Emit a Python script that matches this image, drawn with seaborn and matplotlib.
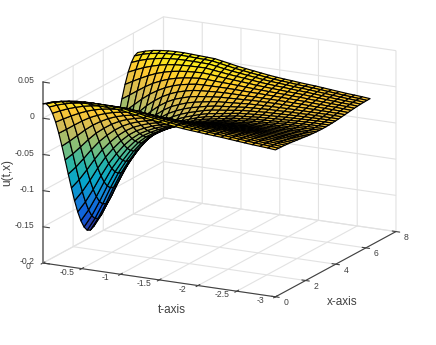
import numpy as np
import matplotlib
matplotlib.use("Agg")
import matplotlib.pyplot as plt
import seaborn as sns
from mpl_toolkits.mplot3d import proj3d

T_VALUES = [-0.1 * i for i in range(31)]
X_STEP = 0.20944
X_VALUES = [X_STEP * j for j in range(31)]
T_TICKS = [0, -0.5, -1, -1.5, -2, -2.5, -3]
T_LABELS = ["0", "-0.5", "-1", "-1.5", "-2", "-2.5", "-3"]
X_TICKS = [0, 2, 4, 6, 8]
X_LABELS = ["0", "2", "4", "6", "8"]
Z_TICKS = [-0.2, -0.15, -0.1, -0.05, 0, 0.05]
Z_LABELS = ["-0.2", "-0.15", "-0.1", "-0.05", "0", "0.05"]
PARULA = ["#352a87", "#0f5cdd", "#1481d6", "#06a4ca", "#2eb7a4", "#87bf77", "#d1bb59", "#fec832", "#f9fb0e"]

U = [
[.0200,.0177,.0109,-.0001,-.0147,-.0325,-.0526,-.0740,-.0960,-.1174,-.1375,-.1553,-.1699,-.1809,-.1877,-.1900,-.1877,-.1809,-.1699,-.1553,-.1375,-.1174,-.0960,-.0740,-.0526,-.0325,-.0147,-.0001,.0109,.0177,.0200],
[.0235,.0214,.0151,.0048,-.0088,-.0254,-.0440,-.0640,-.0845,-.1045,-.1231,-.1397,-.1533,-.1636,-.1699,-.1720,-.1699,-.1636,-.1533,-.1397,-.1231,-.1045,-.0845,-.0640,-.0440,-.0254,-.0088,.0048,.0151,.0214,.0235],
[.0260,.0241,.0184,.0092,-.0031,-.0180,-.0348,-.0528,-.0712,-.0892,-.1060,-.1209,-.1332,-.1424,-.1481,-.1500,-.1481,-.1424,-.1332,-.1209,-.1060,-.0892,-.0712,-.0528,-.0348,-.0180,-.0031,.0092,.0184,.0241,.0260],
[.0275,.0258,.0209,.0128,.0021,-.0109,-.0255,-.0412,-.0573,-.0730,-.0876,-.1006,-.1113,-.1194,-.1243,-.1260,-.1243,-.1194,-.1113,-.1006,-.0876,-.0730,-.0573,-.0412,-.0255,-.0109,.0021,.0128,.0209,.0258,.0275],
[.0285,.0271,.0228,.0158,.0066,-.0046,-.0173,-.0308,-.0447,-.0582,-.0709,-.0821,-.0913,-.0983,-.1026,-.1040,-.1026,-.0983,-.0913,-.0821,-.0709,-.0582,-.0447,-.0308,-.0173,-.0046,.0066,.0158,.0228,.0271,.0285],
[.0290,.0277,.0240,.0180,.0100,.0002,-.0107,-.0225,-.0345,-.0463,-.0573,-.0670,-.0750,-.0810,-.0847,-.0860,-.0847,-.0810,-.0750,-.0670,-.0573,-.0463,-.0345,-.0225,-.0107,.0002,.0100,.0180,.0240,.0277,.0290],
[.0290,.0279,.0247,.0195,.0126,.0042,-.0052,-.0153,-.0257,-.0358,-.0453,-.0536,-.0605,-.0657,-.0689,-.0700,-.0689,-.0657,-.0605,-.0536,-.0453,-.0358,-.0257,-.0153,-.0052,.0042,.0126,.0195,.0247,.0279,.0290],
[.0285,.0276,.0248,.0203,.0144,.0071,-.0010,-.0098,-.0187,-.0275,-.0356,-.0429,-.0488,-.0533,-.0561,-.0570,-.0561,-.0533,-.0488,-.0429,-.0356,-.0275,-.0187,-.0098,-.0010,.0071,.0144,.0203,.0248,.0276,.0285],
[.0280,.0272,.0248,.0208,.0156,.0092,.0021,-.0056,-.0134,-.0211,-.0283,-.0346,-.0398,-.0438,-.0462,-.0470,-.0462,-.0438,-.0398,-.0346,-.0283,-.0211,-.0134,-.0056,.0021,.0092,.0156,.0208,.0248,.0272,.0280],
[.0275,.0268,.0246,.0211,.0163,.0106,.0042,-.0027,-.0098,-.0167,-.0231,-.0288,-.0336,-.0371,-.0393,-.0400,-.0393,-.0371,-.0336,-.0288,-.0231,-.0167,-.0098,-.0027,.0042,.0106,.0163,.0211,.0246,.0268,.0275],
[.0270,.0263,.0244,.0212,.0169,.0117,.0059,-.0003,-.0067,-.0129,-.0188,-.0239,-.0282,-.0314,-.0333,-.0340,-.0333,-.0314,-.0282,-.0239,-.0188,-.0129,-.0067,-.0003,.0059,.0117,.0169,.0212,.0244,.0263,.0270],
[.0250,.0244,.0227,.0198,.0161,.0115,.0063,.0008,-.0048,-.0103,-.0155,-.0201,-.0238,-.0267,-.0284,-.0290,-.0284,-.0267,-.0238,-.0201,-.0155,-.0103,-.0048,.0008,.0063,.0115,.0161,.0198,.0227,.0244,.0250],
[.0230,.0225,.0209,.0184,.0151,.0110,.0064,.0015,-.0035,-.0084,-.0130,-.0171,-.0204,-.0229,-.0245,-.0250,-.0245,-.0229,-.0204,-.0171,-.0130,-.0084,-.0035,.0015,.0064,.0110,.0151,.0184,.0209,.0225,.0230],
[.0210,.0205,.0192,.0170,.0141,.0105,.0065,.0022,-.0022,-.0065,-.0105,-.0141,-.0170,-.0192,-.0205,-.0210,-.0205,-.0192,-.0170,-.0141,-.0105,-.0065,-.0022,.0022,.0065,.0105,.0141,.0170,.0192,.0205,.0210],
[.0195,.0191,.0179,.0159,.0133,.0101,.0065,.0027,-.0012,-.0050,-.0086,-.0118,-.0144,-.0164,-.0176,-.0180,-.0176,-.0164,-.0144,-.0118,-.0086,-.0050,-.0012,.0027,.0065,.0101,.0133,.0159,.0179,.0191,.0195],
[.0180,.0176,.0165,.0148,.0124,.0095,.0063,.0028,-.0008,-.0043,-.0075,-.0104,-.0128,-.0145,-.0156,-.0160,-.0156,-.0145,-.0128,-.0104,-.0075,-.0043,-.0008,.0028,.0063,.0095,.0124,.0148,.0165,.0176,.0180],
[.0165,.0162,.0152,.0136,.0115,.0089,.0060,.0028,-.0003,-.0035,-.0064,-.0090,-.0111,-.0127,-.0137,-.0140,-.0137,-.0127,-.0111,-.0090,-.0064,-.0035,-.0003,.0028,.0060,.0089,.0115,.0136,.0152,.0162,.0165],
[.0150,.0147,.0138,.0124,.0105,.0082,.0057,.0029,.0001,-.0027,-.0053,-.0075,-.0094,-.0108,-.0117,-.0120,-.0117,-.0108,-.0094,-.0075,-.0053,-.0027,.0001,.0029,.0057,.0082,.0105,.0124,.0138,.0147,.0150],
[.0138,.0135,.0128,.0115,.0099,.0078,.0056,.0031,.0007,-.0018,-.0041,-.0061,-.0077,-.0090,-.0097,-.0100,-.0097,-.0090,-.0077,-.0061,-.0041,-.0018,.0007,.0031,.0056,.0078,.0099,.0115,.0128,.0135,.0138],
[.0128,.0126,.0119,.0107,.0092,.0073,.0053,.0030,.0008,-.0015,-.0036,-.0054,-.0069,-.0081,-.0088,-.0090,-.0088,-.0081,-.0069,-.0054,-.0036,-.0015,.0008,.0030,.0053,.0073,.0092,.0107,.0119,.0126,.0128],
[.0120,.0118,.0111,.0101,.0087,.0070,.0051,.0030,.0010,-.0011,-.0030,-.0047,-.0061,-.0071,-.0078,-.0080,-.0078,-.0071,-.0061,-.0047,-.0030,-.0011,.0010,.0030,.0051,.0070,.0087,.0101,.0111,.0118,.0120],
[.0110,.0108,.0102,.0093,.0080,.0065,.0048,.0029,.0011,-.0008,-.0025,-.0040,-.0053,-.0062,-.0068,-.0070,-.0068,-.0062,-.0053,-.0040,-.0025,-.0008,.0011,.0029,.0048,.0065,.0080,.0093,.0102,.0108,.0110],
[.0102,.0100,.0095,.0086,.0075,.0060,.0045,.0028,.0010,-.0007,-.0023,-.0037,-.0048,-.0057,-.0062,-.0064,-.0062,-.0057,-.0048,-.0037,-.0023,-.0007,.0010,.0028,.0045,.0060,.0075,.0086,.0095,.0100,.0102],
[.0095,.0093,.0088,.0080,.0070,.0057,.0042,.0027,.0010,-.0005,-.0020,-.0033,-.0043,-.0051,-.0056,-.0058,-.0056,-.0051,-.0043,-.0033,-.0020,-.0005,.0010,.0027,.0042,.0057,.0070,.0080,.0088,.0093,.0095],
[.0085,.0084,.0079,.0072,.0062,.0051,.0038,.0024,.0009,-.0005,-.0018,-.0029,-.0039,-.0046,-.0051,-.0052,-.0051,-.0046,-.0039,-.0029,-.0018,-.0005,.0009,.0024,.0038,.0051,.0062,.0072,.0079,.0084,.0085],
[.0075,.0074,.0070,.0063,.0055,.0044,.0033,.0020,.0008,-.0005,-.0017,-.0027,-.0035,-.0042,-.0046,-.0047,-.0046,-.0042,-.0035,-.0027,-.0017,-.0005,.0008,.0020,.0033,.0044,.0055,.0063,.0070,.0074,.0075],
[.0065,.0064,.0060,.0055,.0047,.0038,.0028,.0017,.0006,-.0005,-.0015,-.0024,-.0032,-.0037,-.0041,-.0042,-.0041,-.0037,-.0032,-.0024,-.0015,-.0005,.0006,.0017,.0028,.0038,.0047,.0055,.0060,.0064,.0065],
[.0055,.0054,.0051,.0046,.0040,.0032,.0023,.0013,.0004,-.0006,-.0015,-.0023,-.0029,-.0034,-.0037,-.0038,-.0037,-.0034,-.0029,-.0023,-.0015,-.0006,.0004,.0013,.0023,.0032,.0040,.0046,.0051,.0054,.0055],
[.0048,.0047,.0044,.0040,.0034,.0027,.0020,.0011,.0003,-.0006,-.0014,-.0020,-.0026,-.0030,-.0033,-.0034,-.0033,-.0030,-.0026,-.0020,-.0014,-.0006,.0003,.0011,.0020,.0027,.0034,.0040,.0044,.0047,.0048],
[.0040,.0039,.0037,.0033,.0028,.0022,.0015,.0008,.0000,-.0007,-.0014,-.0020,-.0025,-.0029,-.0031,-.0032,-.0031,-.0029,-.0025,-.0020,-.0014,-.0007,.0000,.0008,.0015,.0022,.0028,.0033,.0037,.0039,.0040],
[.0030,.0029,.0027,.0024,.0020,.0015,.0009,.0003,-.0003,-.0009,-.0015,-.0020,-.0024,-.0027,-.0029,-.0030,-.0029,-.0027,-.0024,-.0020,-.0015,-.0009,-.0003,.0003,.0009,.0015,.0020,.0024,.0027,.0029,.0030],
]

sns.set_style("white")
plt.rcParams["font.family"] = ["Liberation Sans", "DejaVu Sans"]
INK = "#404040"
parula = sns.blend_palette(PARULA, as_cmap=True)

W, H = 436, 345
fig = plt.figure(figsize=(W / 100, H / 100), dpi=100)
ax = fig.add_axes([0.1, 0.1, 0.8, 0.8], projection="3d")
ax.set_proj_type("ortho")
ax.view_init(elev=16.3, azim=-62.6)
ax.set_box_aspect((1, 1, 0.72))
ax.set_xlim(0, -3, view_margin=0)
ax.set_ylim(0, 8, view_margin=0)
ax.set_zlim(-0.2, 0.05, view_margin=0)

XX, TT = np.meshgrid(X_VALUES, T_VALUES)
ax.plot_surface(TT, XX, np.array(U), rstride=1, cstride=1, cmap=parula,
                vmin=-0.19, vmax=0.034, edgecolor="black", linewidth=0.85,
                shade=False, antialiased=True)

ax.set_xticks(T_TICKS, T_LABELS, va="bottom")
ax.set_yticks(X_TICKS, X_LABELS)
ax.set_zticks(Z_TICKS, Z_LABELS, ha="right", va="center")
for axis in (ax.xaxis, ax.yaxis, ax.zaxis):
    axis.set_pane_color((1, 1, 1, 0))
    axis.pane.set_edgecolor("#c8c8c8")
    axis.line.set_color(INK)
    axis.line.set_linewidth(0.8)
    axis._axinfo["grid"].update(color="#e2e2e2", linewidth=0.8)
    axis._axinfo["tick"].update(inward_factor=0.2, outward_factor=0.2)

# MATLAB-style z axis on the left edge, ticks pointing left
ax.zaxis._axinfo["juggled"] = (1, 2, 0)
ax.zaxis._axinfo["tick"].update(inward_factor=0.35, outward_factor=0.0)
ax.zaxis.line.set_color("#808080")
ax.zaxis.line.set_linewidth(1.4)

# Tick labels move along one box direction only
ax.xaxis._axmask = lambda: [False, True, False]
ax.yaxis._axmask = lambda: [True, False, False]
ax.zaxis._axmask = lambda: [True, False, False]
ax.tick_params(axis="x", labelsize=6.2, labelcolor=INK, color=INK, width=0.8, pad=11)
ax.tick_params(axis="y", labelsize=6.2, labelcolor=INK, color=INK, width=0.8, pad=-1.2)
ax.tick_params(axis="z", labelsize=6.2, labelcolor=INK, color=INK, width=0.8, pad=-2.4)

fig.text(172 / W, 1 - 310 / H, "t-axis", fontsize=8.5, color=INK, ha="center", va="center")
fig.text(342 / W, 1 - 302 / H, "x-axis", fontsize=8.5, color=INK, ha="center", va="center")
fig.text(7 / W, 1 - 172 / H, "u(t,x)", fontsize=8.5, color=INK, ha="center", va="center", rotation=90)


def corner(t, x, z):
    a, b, _ = proj3d.proj_transform(t, x, z, ax.get_proj())
    return ax.transData.transform((a, b))


target_a = np.array([43.0, H - 263.0])
target_c = np.array([396.0, H - 232.0])
side = 300.0
left, bottom = 60.0, 20.0
ax.set_position([left / W, bottom / H, side / W, side / H])
fig.canvas.draw()
p_a, p_c = corner(0, 0, -0.2), corner(-3, 8, -0.2)
side *= np.linalg.norm(target_c - target_a) / np.linalg.norm(p_c - p_a)
ax.set_position([left / W, bottom / H, side / W, side / H])
fig.canvas.draw()
p_a = corner(0, 0, -0.2)
left += target_a[0] - p_a[0]
bottom += target_a[1] - p_a[1]
ax.set_position([left / W, bottom / H, side / W, side / H])

fig.savefig("out.png", dpi=100, facecolor="white")
